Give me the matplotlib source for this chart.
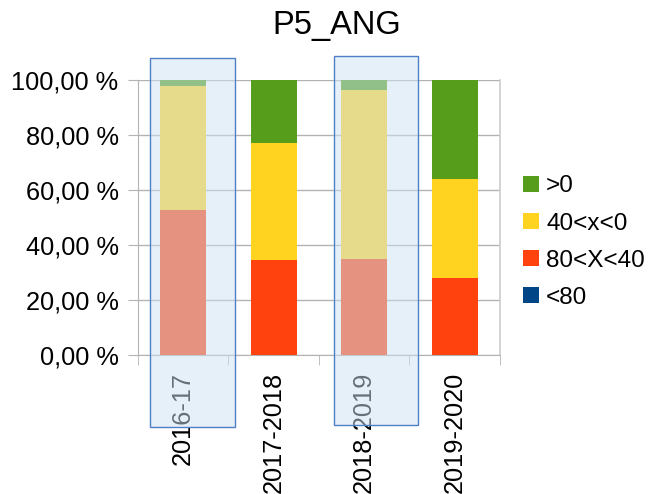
import matplotlib.pyplot as plt
from matplotlib.patches import Rectangle
from matplotlib.ticker import FuncFormatter

plt.rcParams['font.family'] = ['Liberation Sans', 'DejaVu Sans']

# data (percent of each season)
seasons = ['2016-17', '2017-2018', '2018-2019', '2019-2020']
lt80 = [0, 0, 0, 0]
s80_40 = [52.7, 34.5, 34.9, 28.0]
s40_0 = [45.1, 42.6, 61.5, 36.0]
gt0 = [2.2, 22.9, 3.6, 36.0]

colors = {'<80': '#004586', '80<X<40': '#ff420e', '40<x<0': '#ffd320', '>0': '#579d1c'}

fig = plt.figure(figsize=(6.54, 4.94), dpi=100)
ax = fig.add_axes([0.211, 0.2814, 0.5535, 0.5566])

x = range(len(seasons))
w = 0.51
bottom = [0] * 4
handles = {}
for name, vals in [('<80', lt80), ('80<X<40', s80_40), ('40<x<0', s40_0), ('>0', gt0)]:
    handles[name] = ax.bar(x, vals, w, bottom=bottom, color=colors[name], label=name, zorder=3)
    bottom = [b + v for b, v in zip(bottom, vals)]

ax.set_ylim(0, 100)
ax.set_xlim(-0.5, 3.5)
ax.set_yticks(range(0, 101, 20))
ax.yaxis.set_major_formatter(FuncFormatter(lambda v, p: f'{v:.2f}'.replace('.', ',') + ' %'))
ax.tick_params(axis='y', length=7, color='#b3b3b3', labelsize=18.3, pad=7)
ax.set_xticks(list(x))
ax.set_xticklabels(seasons, rotation=90, fontsize=18.3)
ax.tick_params(axis='x', which='major', length=0, pad=12)
ax.set_xticks([-0.5, 0.5, 1.5, 2.5, 3.5], minor=True)
ax.tick_params(axis='x', which='minor', length=7, color='#b3b3b3')
ax.grid(axis='y', color='#b3b3b3', linewidth=1, zorder=0)
ax.set_axisbelow(True)
for s in ['left', 'bottom']:
    ax.spines[s].set_color('#b3b3b3')
ax.spines['right'].set_color('#cccccc')
ax.spines['right'].set_linewidth(1.2)
ax.spines['top'].set_visible(False)

fig.text(0.515, 0.948, 'P5_ANG', fontsize=23.5, ha='center', va='center')

# highlight boxes over first and third season
for x0, x1, y0, y1 in [(-0.365, 0.575, -26.2, 108.0), (1.67, 2.597, -25.5, 108.7)]:
    ax.add_patch(Rectangle((x0, y0), x1 - x0, y1 - y0, facecolor=(0.80, 0.89, 0.955, 0.5),
                           edgecolor='#4f7fc4', linewidth=1, clip_on=False, zorder=10))

order = ['>0', '40<x<0', '80<X<40', '<80']
fig.legend([handles[k] for k in order], order, loc='center left', bbox_to_anchor=(0.77, 0.51),
           frameon=False, fontsize=17.5, handlelength=0.65, handleheight=0.65,
           labelspacing=0.62, handletextpad=0.3, borderpad=0.3)

fig.savefig('out.png', dpi=100)
